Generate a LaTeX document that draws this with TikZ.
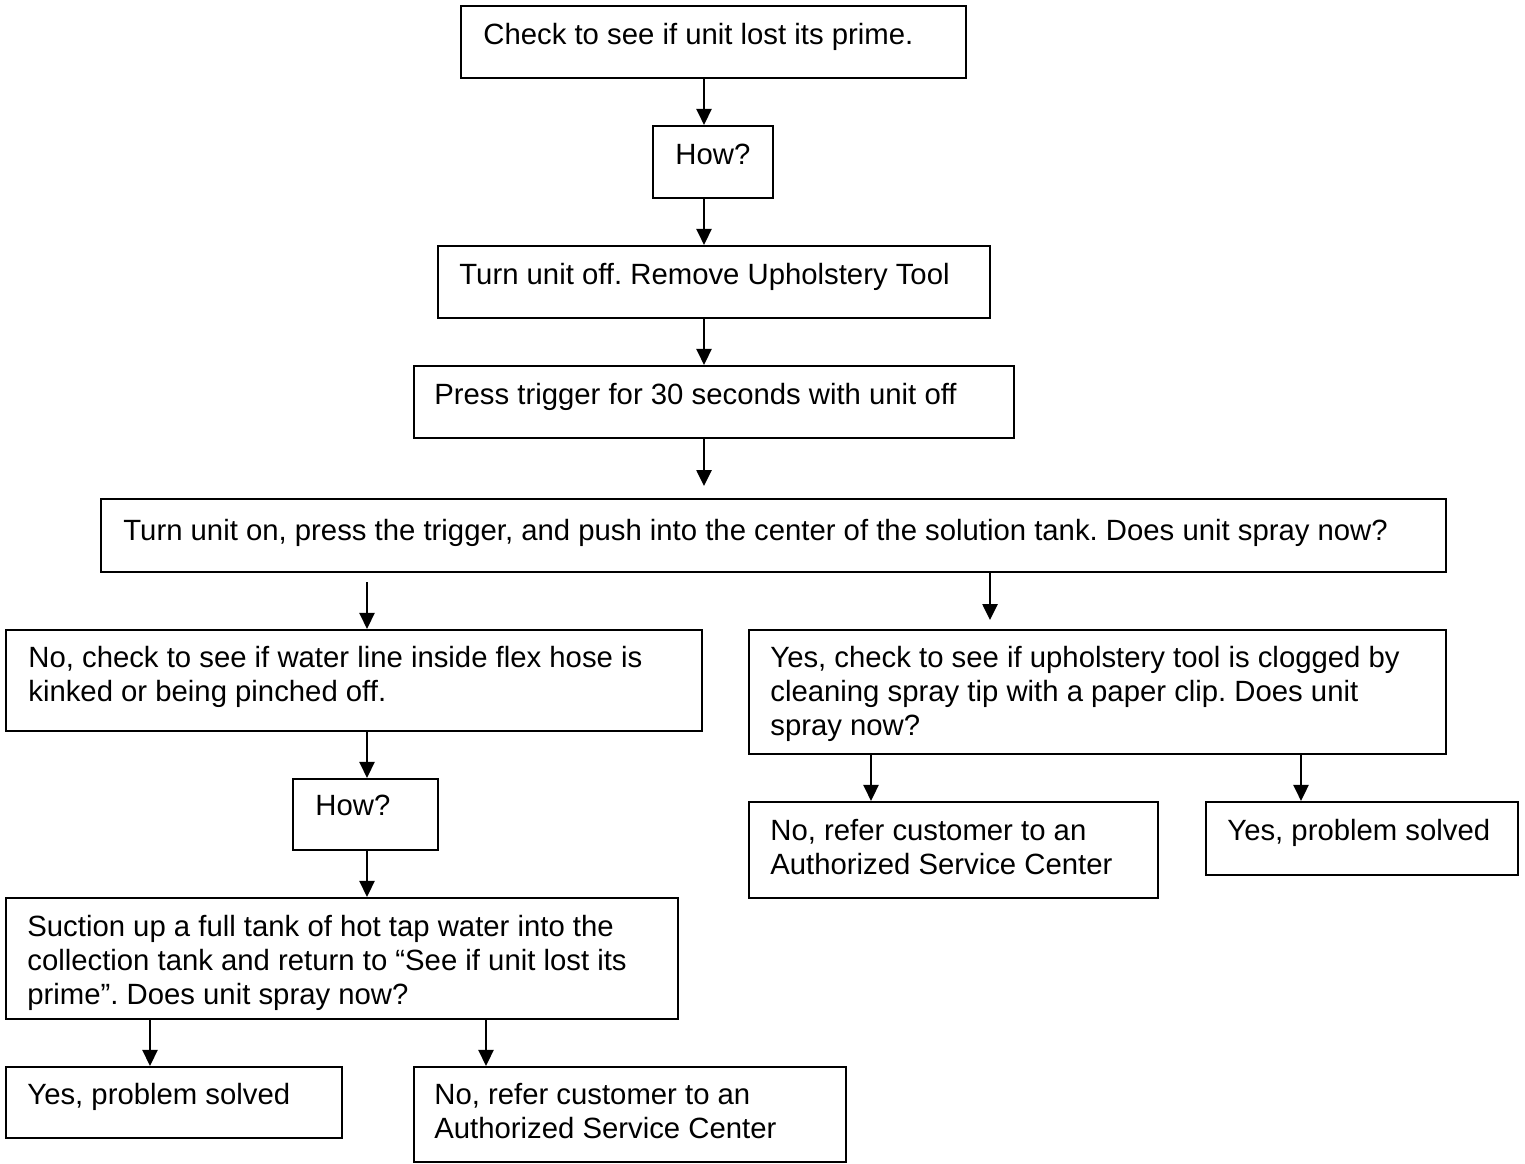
\documentclass[tikz,border=0pt]{standalone}
\usepackage{fontspec}
\setmainfont{Liberation Sans}
\usetikzlibrary{arrows.meta,fit}
\frenchspacing
\begin{document}
\begin{tikzpicture}[x=0.5pt,y=-0.5pt,
  box/.style={draw=black, line width=1.1pt, inner sep=0pt},
  txt/.style={anchor=base west, inner sep=0pt, align=left,
    font=\fontsize{14.65pt}{16.9pt}\selectfont},
  arr/.style={line width=1pt, -{Triangle[width=7.6pt,length=8pt]}}]
\useasboundingbox (0,0) rectangle (1525,1163);

% boxes
\node[box, fit={(461,6)(966,78)}] (b1) {};
\node[box, fit={(653,126)(773,198)}] (b2) {};
\node[box, fit={(438,246)(990,318)}] (b3) {};
\node[box, fit={(414,366)(1014,438)}] (b4) {};
\node[box, fit={(101,499)(1446,572)}] (b5) {};
\node[box, fit={(6,630)(702,731)}] (b6) {};
\node[box, fit={(749,630)(1446,754)}] (b7) {};
\node[box, fit={(293,779)(438,850)}] (b8) {};
\node[box, fit={(6,898)(678,1019)}] (b9) {};
\node[box, fit={(749,802)(1158,898)}] (b10) {};
\node[box, fit={(1206,802)(1518,875)}] (b11) {};
\node[box, fit={(6,1067)(342,1138)}] (b12) {};
\node[box, fit={(414,1067)(846,1162)}] (b13) {};

% texts (anchor = baseline of the last line)
\node[txt] (t1) at (483,44) {Check to see if unit lost its prime.};
\node[txt] (t2) at (675,164) {How?};
\node[txt] (t3) at (459,284) {Turn unit off. Remove Upholstery Tool};
\node[txt] (t4) at (434,404) {Press trigger for 30 seconds with unit off};
\node[txt] (t5) at (123,540) {Turn unit on, press the trigger, and push into the center of the solution tank. Does unit spray now?};
\node[txt] (t6) at (28,701) {No, check to see if water line inside flex hose is\\kinked or being pinched off.};
\node[txt] (t7) at (770,735) {Yes, check to see if upholstery tool is clogged by\\cleaning spray tip with a paper clip. Does unit\\spray now?};
\node[txt] (t8) at (315,815) {How?};
\node[txt] (t9) at (27,1004) {Suction up a full tank of hot tap water into the\\collection tank and return to “See if unit lost its\\prime”. Does unit spray now?};
\node[txt] (t10) at (770,874) {No, refer customer to an\\Authorized Service Center};
\node[txt] (t11) at (1227,840) {Yes, problem solved};
\node[txt] (t12) at (27,1104) {Yes, problem solved};
\node[txt] (t13) at (434,1138) {No, refer customer to an\\Authorized Service Center};

% free ends
\coordinate (e45) at (704,486);
\coordinate (s56) at (367,582);
\coordinate (e57) at (990,620);

% connectors
\draw[arr] (b1.south -| 704,0) -- (b2.north -| 704,0);
\draw[arr] (b2.south -| 704,0) -- (b3.north -| 704,0);
\draw[arr] (b3.south -| 704,0) -- (b4.north -| 704,0);
\draw[arr] (b4.south -| e45) -- (e45);
\draw[arr] (s56) -- (b6.north -| s56);
\draw[arr] (b5.south -| e57) -- (e57);
\draw[arr] (b6.south -| 367,0) -- (b8.north -| 367,0);
\draw[arr] (b8.south -| 367,0) -- (b9.north -| 367,0);
\draw[arr] (b7.south -| 871,0) -- (b10.north -| 871,0);
\draw[arr] (b7.south -| 1301,0) -- (b11.north -| 1301,0);
\draw[arr] (b9.south -| 150,0) -- (b12.north -| 150,0);
\draw[arr] (b9.south -| 486,0) -- (b13.north -| 486,0);
\end{tikzpicture}
\end{document}
